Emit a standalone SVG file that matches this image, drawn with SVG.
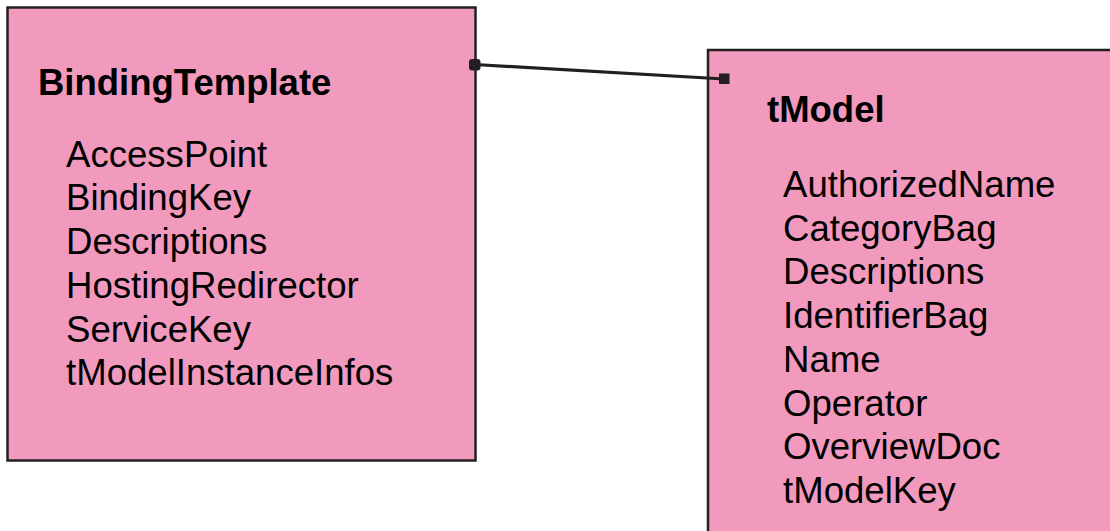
<svg xmlns="http://www.w3.org/2000/svg" width="1110" height="531" viewBox="0 0 1110 531">
  <style>
    .box { fill: #f29abe; stroke: #231f20; stroke-width: 2.5; }
    .title { font-family: "Liberation Sans", Arial, sans-serif; font-weight: bold; font-size: 36.5px; fill: #000; }
    .item { font-family: "Liberation Sans", Arial, sans-serif; font-size: 36.6px; fill: #000; }
    .conn { stroke: #231f20; stroke-width: 3.2; fill: none; }
    .end { fill: #231f20; }
  </style>
  <rect width="1110" height="531" fill="#ffffff"/>

  <g id="bindingTemplate">
    <rect class="box" x="7.5" y="7.5" width="468" height="453"/>
    <text class="title" x="38" y="95">BindingTemplate</text>
    <text class="item" x="66" y="166.7">AccessPoint</text>
    <text class="item" x="66" y="210.4">BindingKey</text>
    <text class="item" x="66" y="254.1">Descriptions</text>
    <text class="item" x="66" y="297.8">HostingRedirector</text>
    <text class="item" x="66" y="341.5">ServiceKey</text>
    <text class="item" x="66" y="385.2">tModelInstanceInfos</text>
  </g>

  <g id="tModel">
    <rect class="box" x="708" y="50" width="420" height="500"/>
    <text class="title" x="767" y="122">tModel</text>
    <text class="item" x="783" y="197">AuthorizedName</text>
    <text class="item" x="783" y="240.7">CategoryBag</text>
    <text class="item" x="783" y="284.4">Descriptions</text>
    <text class="item" x="783" y="328.1">IdentifierBag</text>
    <text class="item" x="783" y="371.8">Name</text>
    <text class="item" x="783" y="415.5">Operator</text>
    <text class="item" x="783" y="459.2">OverviewDoc</text>
    <text class="item" x="783" y="502.9">tModelKey</text>
  </g>

  <g id="connectors">
    <line class="conn" x1="475" y1="64.5" x2="724" y2="79"/>
    <rect class="end" x="469" y="59" width="11.5" height="11.5" rx="3"/>
    <rect class="end" x="719" y="73.5" width="10.5" height="10.5"/>
  </g>
</svg>
